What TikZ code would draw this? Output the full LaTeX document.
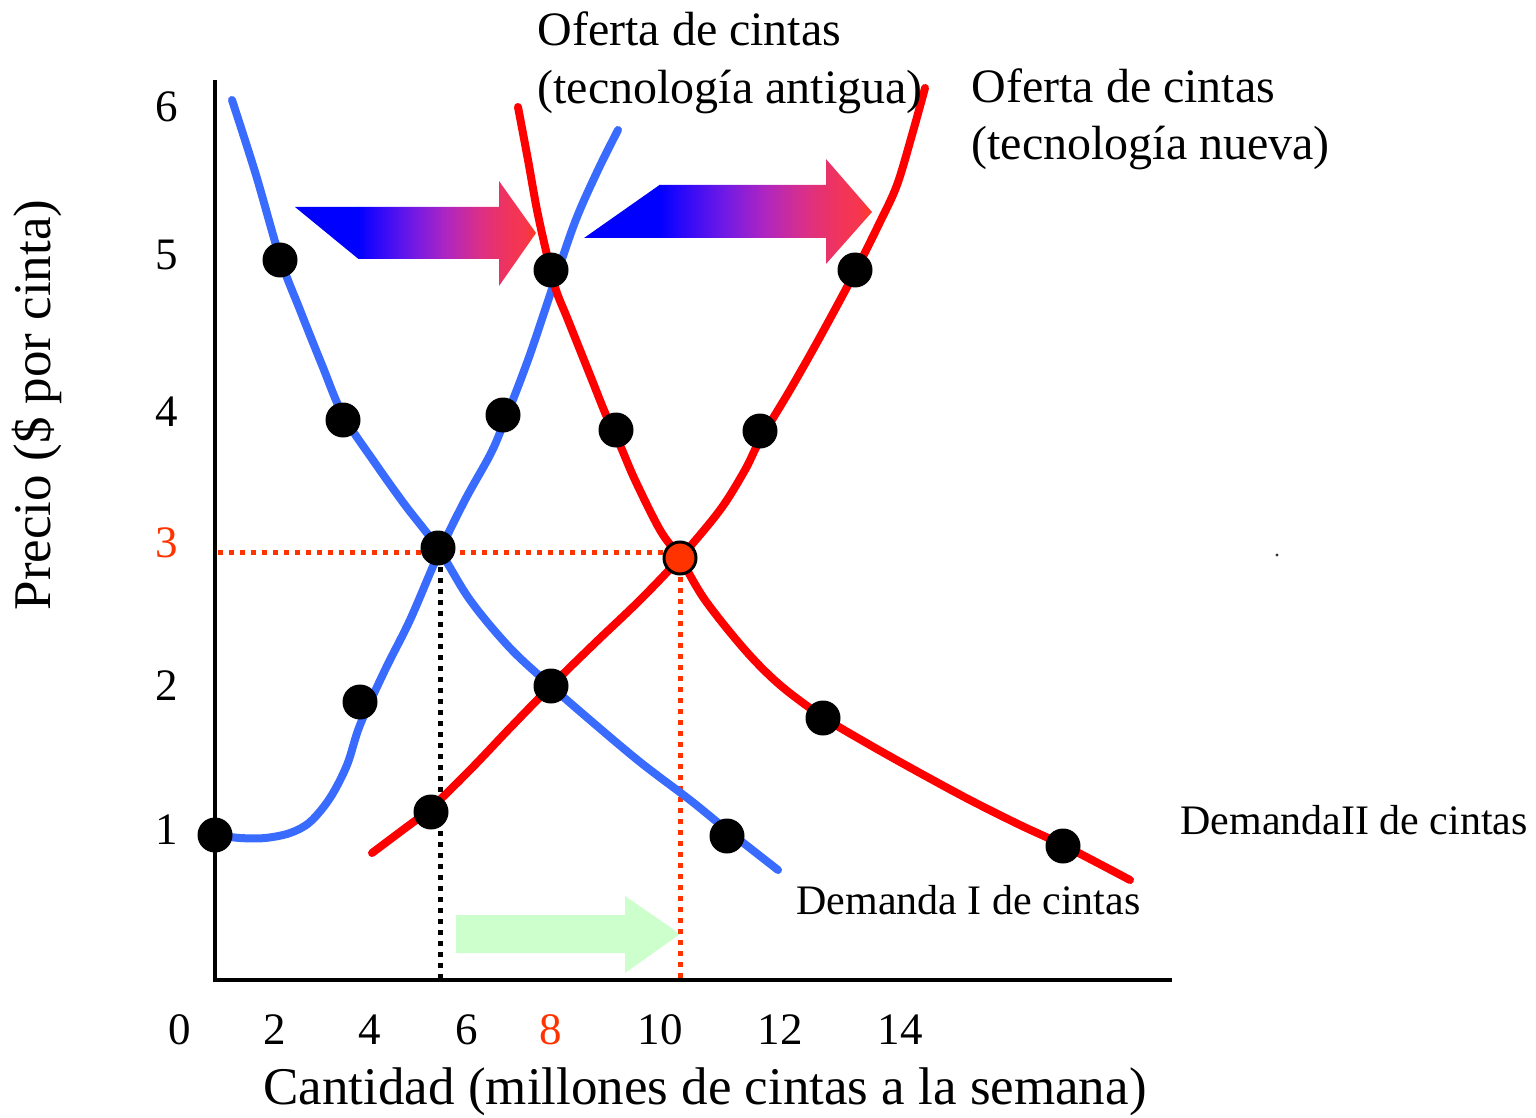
\documentclass[tikz,border=0pt]{standalone}
\usepackage{fontspec}
\setmainfont{Liberation Serif}
\begin{document}
\begin{tikzpicture}[x=0.5pt,y=-0.5pt]
\definecolor{cblue}{RGB}{58,107,255}
\definecolor{cred}{RGB}{255,0,0}
\definecolor{corange}{RGB}{255,51,0}
\definecolor{cgreen}{RGB}{204,255,204}
\pgfdeclarehorizontalshading{arrowgrad}{100bp}{color(0bp)=(blue); color(25bp)=(blue); color(30bp)=(rgb,255:red,40;green,8;blue,250); color(40bp)=(rgb,255:red,110;green,25;blue,230); color(50bp)=(rgb,255:red,176;green,38;blue,192); color(60bp)=(rgb,255:red,222;green,48;blue,130); color(68bp)=(rgb,255:red,242;green,52;blue,88); color(72bp)=(rgb,255:red,246;green,54;blue,78); color(75bp)=(rgb,255:red,255;green,58;blue,32); color(100bp)=(rgb,255:red,255;green,58;blue,32)}
\tikzset{
  dot/.style={circle,fill=black,minimum size=17.5pt,inner sep=0pt},
  eqdot/.style={circle,fill=corange,draw=black,line width=1.5pt,minimum size=16pt,inner sep=0pt},
  tick/.style={font=\fontsize{22.5}{27}\selectfont},
  curveb/.style={cblue,line width=4pt,line cap=round,line join=round},
  curver/.style={cred,line width=4pt,line cap=round,line join=round},
  axis/.style={line width=2pt},
  dotline/.style={line width=2.5pt,dash pattern=on 2.5pt off 3pt},
  lbl/.style={font=\fontsize{24}{28}\selectfont,anchor=base west,inner sep=0pt},
  dlbl/.style={font=\fontsize{21}{25}\selectfont,anchor=base west,inner sep=0pt}
}
\useasboundingbox (0,0) rectangle (1536,1118);
% stray mark
\fill[black!80] (1277,555) circle (1.6);
% green arrow
\fill[cgreen] (456,915) -- (625,915) -- (625,896) -- (680,934) -- (625,973) -- (625,953) -- (456,953) -- cycle;
% dotted guide lines
\coordinate (y3) at (218,552);
\coordinate (xa) at (440,980);
\coordinate (xb) at (680,980);
\draw[dotline,corange] (y3) -- (680,552);
\draw[dotline,black] (440,556) -- (xa);
\draw[dotline,corange] (680,566) -- (xb);
% axes
\coordinate (O) at (215,980);
\coordinate (ytop) at (215,80);
\coordinate (xend) at (1172,980);
\draw[axis] (ytop) -- (O) -- (xend);
% gradient arrows
\fill[blue] (295,207) -- (358.5,207) -- (358.5,259) -- cycle;
\shade[shading=arrowgrad] (358,207) -- (499,207) -- (499,181) -- (536,233) -- (499,286) -- (499,259) -- (358,259) -- cycle;
\fill[blue] (584,238) -- (659.5,185) -- (659.5,238) -- cycle;
\shade[shading=arrowgrad] (659,185) -- (826,185) -- (826,159) -- (872,212) -- (826,264) -- (826,238) -- (659,238) -- cycle;
% curves
\draw[curveb] plot[smooth,tension=0.55] coordinates {(232,100) (256,175) (280,258) (300,310) (322,365) (343,415) (375,463) (405,505) (438,548) (470,600) (510,648) (551,686) (590,720) (640,762) (690,800) (727,830) (778,870)};
\draw[curveb] plot[smooth,tension=0.55] coordinates {(215,835) (240,838) (265,838) (290,833) (310,822) (330,798) (347,765) (360,725) (385,670) (410,620) (438,555) (465,500) (490,455) (503,425) (528,360) (551,292) (575,222) (598,170) (618,130)};
\draw[curver] plot[smooth,tension=0.55] coordinates {(372,853) (400,832) (431,808) (470,770) (510,728) (551,686) (595,643) (640,600) (680,558) (720,510) (745,470) (760,440) (790,390) (820,337) (855,272) (880,222) (897,185) (912,135) (925,88)};
\draw[curver] plot[smooth,tension=0.55] coordinates {(518,107) (528,160) (537,210) (547,255) (556,290) (568,320) (590,375) (606,415) (620,445) (635,480) (660,530) (680,558) (705,600) (745,650) (780,685) (823,717) (870,745) (920,773) (970,800) (1020,825) (1065,846) (1130,880)};
% dots
\node[dot] (d1) at (215,835) {};
\node[dot] (d2) at (280,260) {};
\node[dot] (d3) at (343,420) {};
\node[dot] (d4) at (438,548) {};
\node[dot] (d5) at (503,415) {};
\node[dot] (d6) at (360,702) {};
\node[dot] (d7) at (551,270) {};
\node[dot] (d8) at (616,430) {};
\node[dot] (d9) at (551,686) {};
\node[dot] (d10) at (431,812) {};
\node[dot] (d11) at (727,836) {};
\node[dot] (d12) at (760,431) {};
\node[dot] (d13) at (855,270) {};
\node[dot] (d14) at (823,718) {};
\node[dot] (d15) at (1063,846) {};
\node[eqdot] (eq) at (680,558) {};
% y ticks
\node[tick] (t6) at (167,107) {6};
\node[tick] (t5) at (167,255) {5};
\node[tick] (t4) at (167,412) {4};
\node[tick,text=corange] (t3) at (167,543) {3};
\node[tick] (t2) at (167,686) {2};
\node[tick] (t1) at (167,830) {1};
% x ticks
\node[tick] (u0) at (180,1030) {0};
\node[tick] (u2) at (275,1030) {2};
\node[tick] (u4) at (370,1030) {4};
\node[tick] (u6) at (467,1030) {6};
\node[tick,text=corange] (u8) at (551,1030) {8};
\node[tick] (u10) at (660,1030) {10};
\node[tick] (u12) at (780,1030) {12};
\node[tick] (u14) at (900,1030) {14};
% axis titles
\node[font=\fontsize{26.5}{30}\selectfont,rotate=90] (ytitle) at (37,405) {Precio (\$ por cinta)};
\node[font=\fontsize{26.5}{30}\selectfont] (xtitle) at (705,1092) {Cantidad (millones de cintas a la semana)};
% curve labels
\node[lbl] (la1) at (537,46) {Oferta de cintas};
\node[lbl] (la2) at (537,104) {(tecnología antigua)};
\node[lbl] (lb1) at (971,103) {Oferta de cintas};
\node[lbl] (lb2) at (971,160) {(tecnología nueva)};
\node[dlbl] (ld2) at (1180,834) {DemandaII de cintas};
\node[dlbl] (ld1) at (796,914) {Demanda I de cintas};
\end{tikzpicture}
\end{document}
